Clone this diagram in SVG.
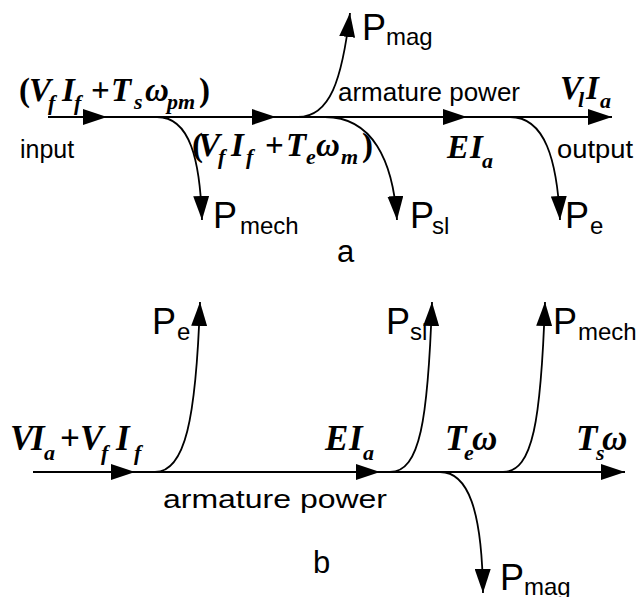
<svg xmlns="http://www.w3.org/2000/svg" width="636" height="597" viewBox="0 0 636 597">
<style>
.ln{fill:none;stroke:#000;stroke-width:1.8}
.m{font-family:"Liberation Serif",serif;font-weight:bold;font-style:italic;font-size:33px;fill:#000}
.mb{font-size:35px}
.s{font-size:22px}
.up{font-style:normal}
.t{font-family:"Liberation Sans",Arial,sans-serif;fill:#000}
.P{font-size:36px}
.sub{font-size:24px}
.lbl{font-size:25px}
</style>
<defs>
<marker id="ah" markerUnits="userSpaceOnUse" markerWidth="24" markerHeight="16" refX="24" refY="8" orient="auto" viewBox="0 0 24 16">
<path d="M0,0 L24,8 L0,16 z" fill="#000"/>
</marker>
</defs>
<g id="connectors">
<path class="ln" d="M48,117 L107,117" marker-end="url(#ah)"/>
<path class="ln" d="M107,117 L276,117" marker-end="url(#ah)"/>
<path class="ln" d="M276,117 L467,117" marker-end="url(#ah)"/>
<path class="ln" d="M467,117 L612,117" marker-end="url(#ah)"/>
<path class="ln" d="M157,117 C190,117 200,160 202,220" marker-end="url(#ah)"/>
<path class="ln" d="M298,117 C330,117 342,80 350,13" marker-end="url(#ah)"/>
<path class="ln" d="M325,117 C372,117 393,160 397,220" marker-end="url(#ah)"/>
<path class="ln" d="M510,117 C545,117 557,160 560,220" marker-end="url(#ah)"/>
<path class="ln" d="M33,472 L135,472" marker-end="url(#ah)"/>
<path class="ln" d="M135,472 L380,472" marker-end="url(#ah)"/>
<path class="ln" d="M380,472 L625,472" marker-end="url(#ah)"/>
<path class="ln" d="M155,472 C185,472 196,420 200,302" marker-end="url(#ah)"/>
<path class="ln" d="M390,472 C420,472 428,420 432,302" marker-end="url(#ah)"/>
<path class="ln" d="M503,472 C533,472 541,420 545,302" marker-end="url(#ah)"/>
<path class="ln" d="M440,472 C468,472 482,510 483,593" marker-end="url(#ah)"/>
</g>
<g id="diagram-a">
<g id="a-input-expr">
<text class="m"><tspan x="19" y="101" class="up">(</tspan><tspan x="29" y="101">V</tspan><tspan x="48" y="110" class="s">f</tspan><tspan x="62" y="101">I</tspan><tspan x="74" y="110" class="s">f</tspan><tspan x="91" y="101" class="up">+</tspan><tspan x="111" y="101">T</tspan><tspan x="134" y="109" class="s">s</tspan><tspan x="145" y="101">ω</tspan><tspan x="167" y="109" class="s">pm</tspan><tspan x="199" y="101" class="up">)</tspan></text>
</g>
<g id="a-input"><text class="t lbl" x="20" y="158">input</text></g>
<g id="a-mid-expr">
<text class="m"><tspan x="192" y="156" class="up">(</tspan><tspan x="198" y="156">V</tspan><tspan x="218" y="164" class="s">f</tspan><tspan x="231" y="156">I</tspan><tspan x="246" y="164" class="s">f</tspan><tspan x="265" y="156" class="up">+</tspan><tspan x="286" y="156">T</tspan><tspan x="306" y="164" class="s">e</tspan><tspan x="316" y="156">ω</tspan><tspan x="341" y="164" class="s">m</tspan><tspan x="362" y="156" class="up">)</tspan></text>
</g>
<g id="a-pmech"><text class="t"><tspan class="P" x="213" y="228">P</tspan><tspan class="sub" x="240" y="234">mech</tspan></text></g>
<g id="a-pmag"><text class="t"><tspan class="P" x="362" y="40">P</tspan><tspan class="sub" x="386" y="45">mag</tspan></text></g>
<g id="a-arm"><text class="t" x="338" y="101" font-size="25" textLength="182" lengthAdjust="spacingAndGlyphs">armature power</text></g>
<g id="a-psl"><text class="t"><tspan class="P" x="410" y="228">P</tspan><tspan class="sub" x="432" y="234">sl</tspan></text></g>
<g id="a-ei"><text class="m"><tspan x="447" y="158">E</tspan><tspan x="470" y="158">I</tspan><tspan x="482" y="168" class="s">a</tspan></text></g>
<g id="a-vi"><text class="m"><tspan x="560" y="99">V</tspan><tspan x="578" y="107" class="s">l</tspan><tspan x="586" y="99">I</tspan><tspan x="600" y="108" class="s">a</tspan></text></g>
<g id="a-output"><text class="t lbl" x="557" y="158" textLength="76" lengthAdjust="spacingAndGlyphs">output</text></g>
<g id="a-pe"><text class="t"><tspan class="P" x="565" y="228">P</tspan><tspan class="sub" x="590" y="234">e</tspan></text></g>
<g id="a-label"><text class="t" x="337" y="262" font-size="31">a</text></g>
</g>
<g id="diagram-b">
<g id="b-input-expr"><text class="m mb"><tspan x="10" y="450">V</tspan><tspan x="31" y="450">I</tspan><tspan x="44" y="460" class="s">a</tspan><tspan x="60" y="450" class="up">+</tspan><tspan x="80" y="450">V</tspan><tspan x="101" y="460" class="s">f</tspan><tspan x="116" y="450">I</tspan><tspan x="134" y="460" class="s">f</tspan></text></g>
<g id="b-pe"><text class="t"><tspan class="P" x="152" y="334">P</tspan><tspan class="sub" x="177" y="340">e</tspan></text></g>
<g id="b-arm"><text class="t" x="163" y="508" font-size="26" textLength="224" lengthAdjust="spacingAndGlyphs">armature power</text></g>
<g id="b-ei"><text class="m mb"><tspan x="325" y="450">E</tspan><tspan x="349" y="450">I</tspan><tspan x="363" y="460" class="s">a</tspan></text></g>
<g id="b-psl"><text class="t"><tspan class="P" x="386" y="334">P</tspan><tspan class="sub" x="410" y="340">sl</tspan></text></g>
<g id="b-te"><text class="m mb"><tspan x="445" y="450">T</tspan><tspan x="464" y="460" class="s">e</tspan><tspan x="472" y="450">ω</tspan></text></g>
<g id="b-pmech"><text class="t"><tspan class="P" x="553" y="334">P</tspan><tspan class="sub" x="578" y="340">mech</tspan></text></g>
<g id="b-ts"><text class="m mb"><tspan x="576" y="450">T</tspan><tspan x="596" y="460" class="s">s</tspan><tspan x="602" y="450">ω</tspan></text></g>
<g id="b-pmag"><text class="t"><tspan class="P" x="500" y="590">P</tspan><tspan class="sub" x="524" y="595">mag</tspan></text></g>
<g id="b-label"><text class="t" x="313" y="573" font-size="31">b</text></g>
</g>
</svg>
